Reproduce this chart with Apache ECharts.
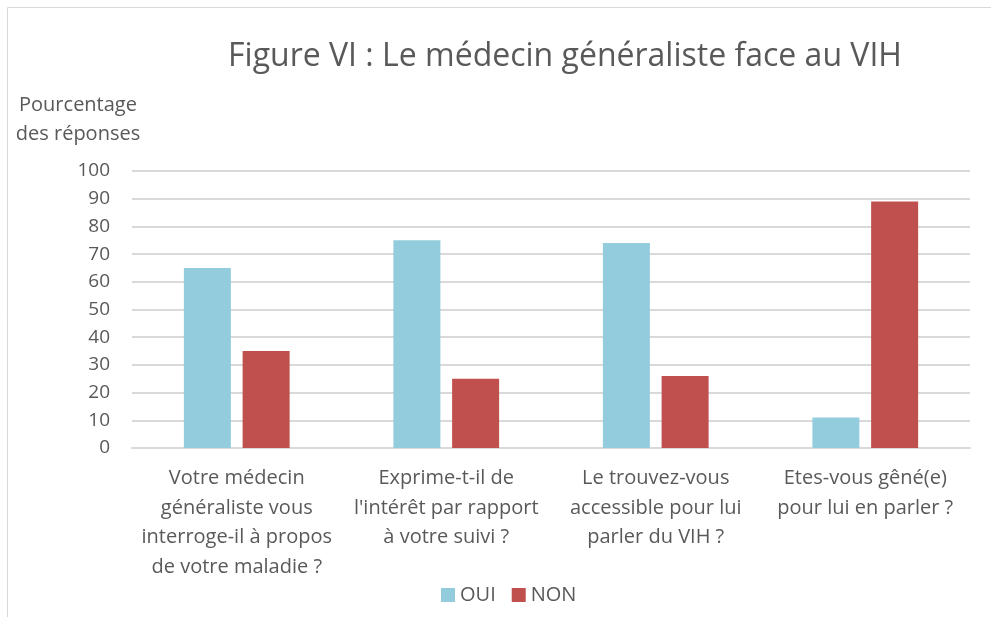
<!DOCTYPE html>
<html>
<head>
<meta charset="utf-8">
<script src="https://cdn.jsdelivr.net/npm/echarts@6/dist/echarts.min.js"></script>
<style>
  html, body { margin: 0; padding: 0; background: #fff; }
  #main { width: 991px; height: 617px; }
</style>
</head>
<body>
<div id="main"></div>
<script>
// données
var categories = [
    'Votre médecin\ngénéraliste vous\ninterroge-il à propos\nde votre maladie ?',
    'Exprime-t-il de\nl\'intérêt par rapport\nà votre suivi ?',
    'Le trouvez-vous\naccessible pour lui\nparler du VIH ?',
    'Etes-vous gêné(e)\npour lui en parler ?'
];
var oui = [65, 75, 74, 11];
var non = [35, 25, 26, 89];

var font = 'Open Sans';
var textColor = '#595959';

var myChart = echarts.init(document.getElementById('main'));

var option = {
    animation: false,
    textStyle: { fontFamily: font },
    graphic: [
        {
            type: 'rect',
            shape: { x: 7.5, y: 7.5, width: 1000, height: 700 },
            style: { fill: 'none', stroke: '#d9d9d9', lineWidth: 1 }
        }
    ],
    title: {
        text: 'Figure VI : Le médecin généraliste face au VIH',
        left: 560,
        top: 36,
        textAlign: 'center',
        textStyle: { fontFamily: font, fontSize: 32, fontWeight: 'normal', color: textColor }
    },
    legend: {
        data: ['OUI', 'NON'],
        left: 436,
        top: 580,
        itemWidth: 14,
        itemHeight: 14,
        itemGap: 16,
        icon: 'rect',
        textStyle: { fontFamily: font, fontSize: 20, color: textColor, padding: [0, 0, 0, 0] }
    },
    grid: { left: 132, right: 21, top: 171, bottom: 169, containLabel: false },
    xAxis: {
        type: 'category',
        data: categories,
        axisLine: { lineStyle: { color: '#d9d9d9', width: 2 } },
        axisTick: { show: false },
        axisLabel: {
            color: textColor,
            fontFamily: font,
            fontSize: 20,
            lineHeight: 29.5,
            margin: 16,
            interval: 0
        }
    },
    yAxis: {
        type: 'value',
        min: 0,
        max: 100,
        interval: 10,
        name: 'Pourcentage\ndes réponses',
        nameLocation: 'end',
        nameGap: 22,
        nameTextStyle: {
            color: textColor,
            fontFamily: font,
            fontSize: 20,
            lineHeight: 29,
            align: 'center',
            padding: [0, 0, 0, -108]
        },
        axisLine: { show: false },
        axisTick: { show: false },
        splitLine: { lineStyle: { color: '#d9d9d9', width: 2 } },
        axisLabel: { color: textColor, fontFamily: font, fontSize: 19, margin: 22 }
    },
    series: [
        {
            name: 'OUI',
            type: 'bar',
            data: oui,
            barWidth: 47,
            barGap: '25%',
            itemStyle: { color: '#93cddd' }
        },
        {
            name: 'NON',
            type: 'bar',
            data: non,
            barWidth: 47,
            itemStyle: { color: '#c0504d' }
        }
    ]
};

myChart.setOption(option);
</script>
</body>
</html>
